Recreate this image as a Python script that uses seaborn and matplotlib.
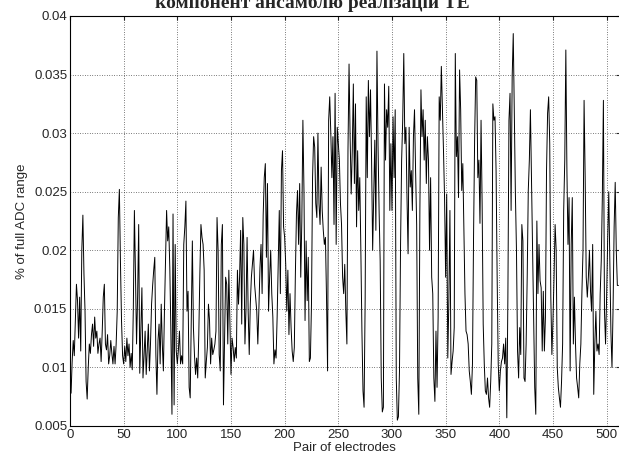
import numpy as np
import pandas as pd
import seaborn as sns
import matplotlib
matplotlib.use("Agg")
import matplotlib.pyplot as plt

# values, in units of 1e-4 (% of full ADC range)
seg_a = [95, 78, 105, 123, 110, 140, 171, 157, 125, 160, 114, 200, 230, 180, 148, 88,
         73, 100, 120, 112, 128, 137, 118, 143, 125, 131, 112, 120, 125, 105, 130, 160,
         171, 120, 115, 128, 103, 110, 123, 112, 103, 118, 103, 120, 148, 228, 252]
seg_b = [190, 140, 110, 103, 118, 105, 125, 110, 120, 100, 112, 98, 150, 234, 180, 120,
         160, 222, 95, 130, 168, 91, 110, 131, 94, 115, 137, 97, 120, 154, 170, 183,
         194, 111, 77, 123, 137, 103, 154, 120, 97, 148, 190, 234, 208, 220, 185, 130,
         60, 231]
seg_c = [68, 205, 114, 103, 115, 131, 103, 110, 103, 205, 220, 242, 148, 165, 83, 74,
         143, 208, 134, 110, 94, 108, 91, 128, 180, 222, 211, 205, 183, 91, 105, 117,
         154, 140, 103, 125, 111, 115, 120, 131, 228, 200, 111, 97, 205, 222, 68, 120,
         177, 171]
seg_d = [120, 183, 137, 94, 125, 117, 105, 117, 108, 183, 154, 177, 217, 137, 228, 205,
         120, 150, 211, 148, 111, 154, 177, 188, 200, 171, 160, 148, 120, 150, 185, 205,
         163, 230, 262, 274, 194, 257, 148, 177, 200, 163, 143, 103, 115, 108, 143, 188,
         234, 163, 268]
seg_e = [285, 220, 211, 188, 148, 183, 128, 163, 134, 114, 105, 117, 180, 231, 251, 205,
         257, 177, 225, 311, 251, 140, 208, 157, 194, 105, 108, 154, 262, 297, 288, 240,
         228, 300, 240, 222, 271, 234, 217, 205, 211, 160, 97, 311, 331, 300, 262, 297,
         222, 334]
seg_f = [205, 305, 291, 277, 240, 222, 177, 163, 188, 148, 120, 285, 359, 297, 248, 285,
         342, 257, 325, 220, 285, 234, 262, 200, 131, 80, 66, 157, 331, 262, 345, 297,
         337, 277, 200, 248, 294, 217, 370, 290, 234, 191, 91, 62, 66, 342, 277, 320,
         305, 340, 234]
seg_g = [291, 234, 314, 262, 320, 91, 55, 58, 97, 205, 277, 311, 368, 291, 305, 245,
         197, 305, 254, 268, 234, 297, 320, 268, 222, 91, 60, 234, 337, 297, 320, 277,
         311, 257, 297, 277, 200, 262, 177, 163, 91, 71, 131, 83, 143, 331, 311, 357,
         322, 285]
seg_h = [245, 177, 248, 108, 157, 234, 94, 105, 114, 134, 368, 280, 297, 245, 354, 320,
         251, 274, 220, 163, 131, 128, 120, 97, 88, 77, 103, 211, 294, 348, 345, 262,
         277, 223, 311, 240, 137, 103, 80, 77, 91, 74, 66, 88, 120, 325, 311, 314,
         268]
seg_i = [177, 103, 80, 97, 105, 108, 120, 103, 125, 57, 160, 311, 334, 234, 348, 385,
         314, 248, 200, 114, 91, 134, 111, 222, 208, 91, 88, 120, 177, 251, 277, 320,
         262, 205, 148, 83, 60, 225, 163, 205, 174, 168, 114, 165, 114, 143, 268, 317,
         331, 291]
seg_j = [160, 111, 140, 177, 222, 200, 100, 83, 74, 66, 88, 120, 234, 277, 371, 268,
         205, 245, 97, 205, 245, 120, 160, 120, 91, 83, 74, 103, 120, 165, 200, 328,
         263, 177, 160, 177, 200, 165, 148, 205, 77, 120, 148, 114, 120, 111, 163, 191,
         245, 328, 148, 120, 160, 210, 250, 190, 130, 100, 150, 220, 258, 200, 170, 170]

values = seg_a + seg_b + seg_c + seg_d + seg_e + seg_f + seg_g + seg_h + seg_i + seg_j
df = pd.DataFrame({"pair": np.arange(len(values)), "adc": np.array(values) * 1e-4})

yticks = [0.005, 0.01, 0.015, 0.02, 0.025, 0.03, 0.035, 0.04]
ytick_labels = ["0.005", "0.01", "0.015", "0.02", "0.025", "0.03", "0.035", "0.04"]
xticks = [0, 50, 100, 150, 200, 250, 300, 350, 400, 450, 500]

sns.set_style("white")
plt.rcParams["font.family"] = ["Liberation Sans", "DejaVu Sans"]

fig = plt.figure(figsize=(6.19, 4.63), dpi=100)
ax = fig.add_axes([70 / 619, 37 / 463, 549.5 / 619, 410 / 463])

sns.lineplot(data=df, x="pair", y="adc", ax=ax, color="black", linewidth=0.7)

ax.set_xlim(0, 512)
ax.set_ylim(0.005, 0.04)
ax.set_xticks(xticks)
ax.set_yticks(yticks)
ax.set_yticklabels(ytick_labels)
ax.tick_params(direction="in", length=3, labelsize=9.5, top=True, right=True, pad=2)
ax.grid(True, color="black", linestyle=(0, (1, 2.5)), linewidth=0.5)
for s in ax.spines.values():
    s.set_color("black")
    s.set_linewidth(0.8)

ax.set_xlabel("Pair of electrodes", fontsize=9.5, labelpad=1)
ax.set_ylabel("% of full ADC range", fontsize=9.5, labelpad=4)

# title of the source figure, clipped at the top edge
fig.text(312 / 619, 1 - 8 / 463, "компонент ансамблю реалізацій TE",
         ha="center", va="baseline", fontsize=14, fontweight="bold",
         family=["Liberation Serif", "DejaVu Serif"])

fig.savefig("out.png", dpi=100)
